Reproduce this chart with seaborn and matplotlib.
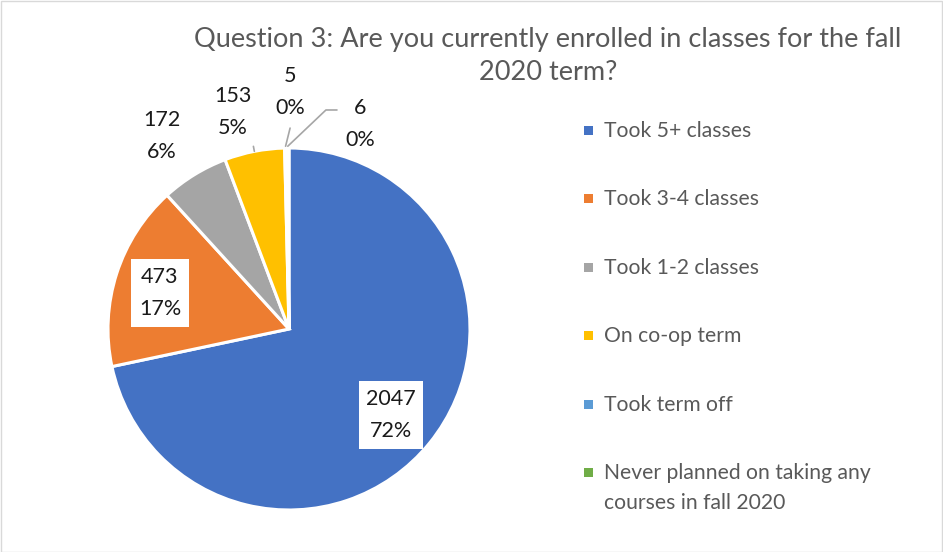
import numpy as np
import matplotlib
matplotlib.use("Agg")
import matplotlib.pyplot as plt
import seaborn as sns
from matplotlib.patches import Rectangle

sns.set_style("white")
plt.rcParams['font.family'] = ['Lato', 'DejaVu Sans']

categories = ["Took 5+ classes", "Took 3-4 classes", "Took 1-2 classes",
              "On co-op term", "Took term off",
              "Never planned on taking any\ncourses in fall 2020"]
values = [2047, 473, 172, 153, 5, 6]
colors = ["#4472C4", "#ED7D31", "#A5A5A5", "#FFC000", "#5B9BD5", "#70AD47"]
title_lines = ["Question 3: Are you currently enrolled in classes for the fall",
               "2020 term?"]

# label positions (pie radius = 1)
label_pos = [(0.564, -0.475), (-0.713, 0.199), (-0.702, 1.066),
             (-0.309, 1.199), (0.006, 1.309), (0.392, 1.133)]
boxed = [True, True, False, False, False, False]

W, H = 943, 552
fig = plt.figure(figsize=(W / 100, H / 100), dpi=100)
fig.patch.set_facecolor("white")

# pie axes: center (289, 329) px, radius 181 px, limits +-1.6
R = 181
cx, cy = 289, 329
half = 1.6 * R
ax = fig.add_axes([(cx - half) / W, (H - cy - half) / H, 2 * half / W, 2 * half / H])

wedges, _ = ax.pie(values, colors=colors, startangle=90, counterclock=False,
                   radius=1.0, wedgeprops=dict(edgecolor="white", linewidth=2.2))
ax.set_xlim(-1.6, 1.6)
ax.set_ylim(-1.6, 1.6)
ax.set_aspect("equal")
ax.axis("off")

total = sum(values)
for i, (v, (lx, ly)) in enumerate(zip(values, label_pos)):
    pct = round(100 * v / total)
    txt = f"{v}\n{pct}%"
    kw = dict(ha="center", va="center", fontsize=15.5, color="#1a1a1a",
              linespacing=1.75, zorder=5)
    if boxed[i]:
        kw["bbox"] = dict(boxstyle="square,pad=0.35", fc="white", ec="none")
    ax.text(lx, ly, txt, **kw)

# leader lines
def edge_point(i, r=1.0):
    w = wedges[i]
    a = np.deg2rad((w.theta1 + w.theta2) / 2)
    return r * np.cos(a), r * np.sin(a)

lc = "#A6A6A6"
# 6
ex, ey = edge_point(5, 1.01)
ax.plot([0.265, 0.204, ex], [1.210, 1.210, ey], color=lc, lw=1.2, clip_on=False)
# 5
ex, ey = edge_point(4, 1.01)
ax.plot([0.006, ex], [1.110, ey], color=lc, lw=1.2, clip_on=False)
# 153
ex, ey = edge_point(3, 1.0)
ax.plot([ex * 1.0, ex * 1.028], [ey * 1.0, ey * 1.028], color=lc, lw=1.2, clip_on=False)

# title (two lines)
for line, y in zip(title_lines, [39, 72]):
    fig.text(548 / W, 1 - y / H, line, ha="center", va="center", fontsize=19.5,
             color="#595959")

# legend (manual)
ys = [130, 198, 267, 335, 404, 472]
for lab, col, y in zip(categories, colors, ys):
    fig.patches.append(Rectangle(((588 - 4.5) / W, 1 - (y + 4.5) / H), 9 / W, 9 / H,
                                 transform=fig.transFigure, fc=col, ec="none"))
    fig.text(604 / W, 1 - (y - 9) / H, lab, ha="left", va="top",
             fontsize=15.2, color="#595959", linespacing=1.65)

# chart border
fig.patches.append(Rectangle((0.5 / W, 0.5 / H), (W - 1.5) / W, (H - 1.5) / H,
                             transform=fig.transFigure, fc="none", ec="#D9D9D9", lw=1))

fig.savefig("out.png", dpi=100)
